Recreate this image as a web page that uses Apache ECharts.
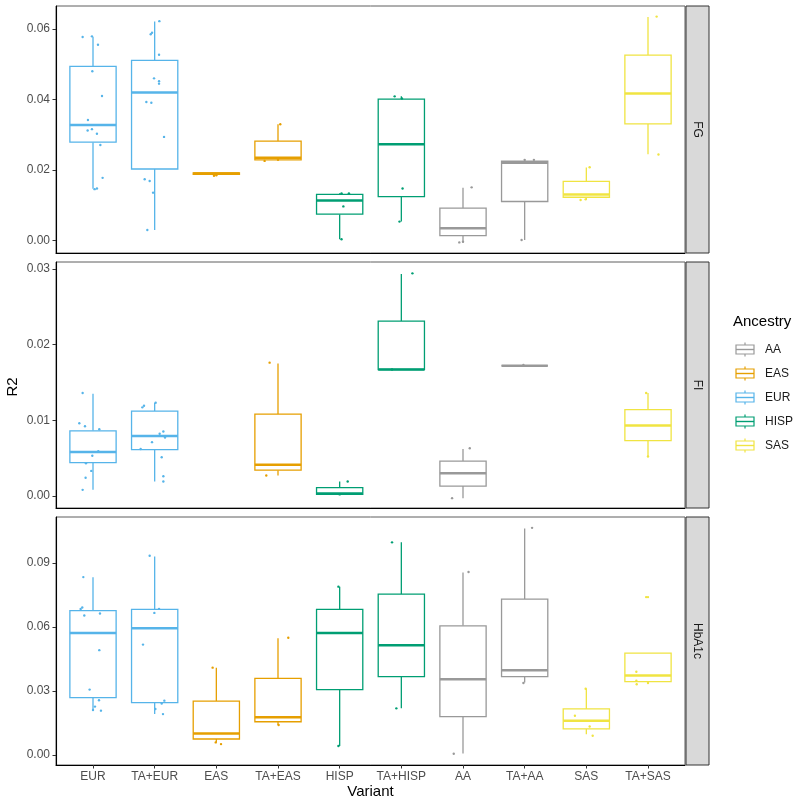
<!DOCTYPE html>
<html>
<head>
<meta charset="utf-8">
<script src="https://cdn.jsdelivr.net/npm/echarts@6/dist/echarts.min.js"></script>
<style>html,body{margin:0;padding:0;background:#fff}#c{width:800px;height:805px}</style>
</head>
<body>
<div id="c"></div>
<script>
// ---------- data ----------
const categories = ['EUR','TA+EUR','EAS','TA+EAS','HISP','TA+HISP','AA','TA+AA','SAS','TA+SAS'];
const categoryAncestry = ['EUR','EUR','EAS','EAS','HISP','HISP','AA','AA','SAS','SAS'];
const ancestries = ['AA','EAS','EUR','HISP','SAS'];
const ancestryColors = ['#999999','#E69F00','#56B4E9','#009E73','#F0E442'];
const traits = ['FG','FI','HbA1c'];

// box stats per category: [lowerWhisker, q1, median, q3, upperWhisker]
const fgBoxes = [
  [0.0147,0.0279,0.0328,0.0494,0.0577],
  [0.0030,0.0203,0.0420,0.0511,0.0621],
  [0.0188,0.0188,0.0190,0.0192,0.0192],
  [0.0229,0.0229,0.0235,0.0282,0.0330],
  [0.0004,0.0075,0.0114,0.0131,0.0134],
  [0.0054,0.0125,0.0273,0.0401,0.0409],
  [-0.0005,0.0014,0.0035,0.0092,0.0150],
  [0.0002,0.0111,0.0221,0.0225,0.0229],
  [0.0116,0.0123,0.0131,0.0168,0.0207],
  [0.0245,0.0331,0.0417,0.0526,0.0634]
];
const fiBoxes = [
  [0.0008,0.0044,0.0058,0.0086,0.0135],
  [0.0019,0.0061,0.0079,0.0112,0.0123],
  null,
  [0.0027,0.0034,0.0041,0.0108,0.0175],
  [0.0002,0.0002,0.0003,0.0011,0.0019],
  [0.0167,0.0167,0.0167,0.0231,0.0293],
  [-0.0003,0.0013,0.0030,0.0046,0.0062],
  [0.0172,0.0172,0.0172,0.0172,0.0172],
  null,
  [0.0052,0.0073,0.0093,0.0114,0.0136]
];
const hba1cBoxes = [
  [0.0207,0.0268,0.0572,0.0677,0.0833],
  [0.0191,0.0245,0.0594,0.0682,0.0931],
  [0.0058,0.0074,0.0100,0.0252,0.0408],
  [0.0140,0.0155,0.0176,0.0359,0.0547],
  [0.0041,0.0306,0.0572,0.0682,0.0789],
  [0.0218,0.0367,0.0514,0.0754,0.0997],
  [0.0006,0.0179,0.0354,0.0605,0.0856],
  [0.0339,0.0367,0.0397,0.0731,0.1062],
  [0.0096,0.0122,0.0160,0.0215,0.0311],
  [0.0333,0.0343,0.0372,0.0477,0.0477]
];

// jittered points: [categoryIndex, jitterOffset, value]
const fgPoints = [
  [0,-0.168,0.0577],[0,-0.017,0.0579],[0,0.081,0.0555],[0,-0.011,0.0480],[0,0.146,0.0410],[0,-0.082,0.0342],[0,-0.017,0.0316],[0,-0.087,0.0312],[0,0.064,0.0303],[0,0.119,0.0271],[0,0.156,0.0178],[0,0.026,0.0146],[0,0.064,0.0148],
  [1,0.076,0.0622],[1,-0.043,0.0589],[1,-0.064,0.0585],[1,0.071,0.0527],[1,-0.010,0.0460],[1,0.071,0.0452],[1,0.071,0.0445],[1,-0.135,0.0393],[1,-0.054,0.0391],[1,0.152,0.0294],[1,-0.162,0.0174],[1,-0.081,0.0169],[1,-0.026,0.0136],[1,-0.119,0.0030],
  [2,-0.038,0.0184],[2,0.0,0.0185],
  [3,0.037,0.0330],[3,-0.217,0.0226],[3,0.0,0.0229],
  [4,0.03,0.0004],[4,0.06,0.0097],[4,0.03,0.0134],[4,0.15,0.0134],
  [5,-0.108,0.0409],[5,-0.03,0.0054],[5,0.01,0.0403],[5,0.02,0.0148],
  [6,0.14,0.0151],[6,-0.06,-0.0005],[6,0.0,-0.0003],
  [7,-0.05,0.0002],[7,0.0,0.0229],[7,0.15,0.0229],
  [8,0.054,0.0208],[8,-0.093,0.0115],[8,-0.011,0.0117],
  [9,0.14,0.0635],[9,0.17,0.0244]
];
const fiPoints = [
  [0,-0.168,0.0136],[0,-0.222,0.0096],[0,-0.13,0.0092],[0,0.102,0.0088],[0,0.086,0.0059],[0,-0.011,0.0053],[0,-0.114,0.0043],[0,-0.028,0.0033],[0,-0.12,0.0024],[0,-0.168,0.0008],
  [1,0.016,0.0123],[1,-0.173,0.0119],[1,-0.2,0.0117],[1,0.081,0.0082],[1,0.141,0.0085],[1,0.168,0.0077],[1,-0.043,0.0071],[1,-0.227,0.0062],[1,0.114,0.0051],[1,0.141,0.0026],[1,0.141,0.0019],
  [3,-0.136,0.0176],[3,-0.19,0.0027],
  [4,0.13,0.0019],[4,0.0,0.0002],
  [5,0.18,0.0294],[5,-0.151,0.0167],
  [6,0.11,0.0063],[6,-0.177,-0.0003],
  [7,-0.02,0.0173],
  [9,-0.03,0.0136],[9,0.0,0.0052]
];
const hba1cPoints = [
  [0,-0.157,0.0834],[0,-0.174,0.0691],[0,-0.2,0.0684],[0,-0.141,0.0654],[0,0.113,0.0663],[0,0.102,0.0491],[0,-0.055,0.0306],[0,0.097,0.0256],[0,0.032,0.0226],[0,0.0,0.0210],[0,0.129,0.0207],
  [1,-0.081,0.0934],[1,0.071,0.0685],[1,-0.005,0.0666],[1,-0.189,0.0517],[1,0.157,0.0254],[1,0.114,0.0241],[1,0.011,0.0215],[1,0.135,0.0191],
  [2,-0.06,0.0409],[2,-0.01,0.0058],[2,0.076,0.0050],
  [3,0.167,0.0549],[3,0.01,0.0140],
  [4,-0.02,0.0789],[4,-0.02,0.0041],
  [5,-0.151,0.0997],[5,-0.081,0.0218],
  [6,0.09,0.0858],[6,-0.15,0.0005],
  [7,0.12,0.1065],[7,-0.02,0.0337],
  [8,-0.011,0.0310],[8,-0.185,0.0183],[8,0.054,0.0133],[8,0.103,0.0089],
  [9,-0.189,0.0390],[9,-0.189,0.0348],[9,0.0,0.0337],[9,-0.183,0.0331],[9,-0.03,0.0740],[9,0.0,0.0740]
];

const yTicks = [[0,0.02,0.04,0.06],[0,0.01,0.02,0.03],[0,0.03,0.06,0.09]];
const yRanges = [[-0.0035,0.0665],[-0.0016,0.0309],[-0.0048,0.1116]];

// ---------- layout ----------
const FONT = 'Liberation Sans, Arial, sans-serif';
const panels = [{top:6,height:247},{top:262,height:246},{top:517,height:248}];
const gridLeft = 56, gridRight = 800-685;
const boxesAll = [fgBoxes, fiBoxes, hba1cBoxes];
const pointsAll = [fgPoints, fiPoints, hba1cPoints];
const tickCats = categories.map((_, i) => i + 1);
const BOX_LW = 1.3, MED_LW = 2.5;

const grids = [], xAxes = [], yAxes = [], series = [], graphics = [];
panels.forEach((p, i) => {
  grids.push({left:gridLeft, right:gridRight, top:p.top, height:p.height, show:true,
    borderColor:'#5f5f5f', borderWidth:1, backgroundColor:'#fff', containLabel:false});
  const isBottom = i === panels.length - 1;
  xAxes.push({type:'value', gridIndex:i, min:0.4, max:10.6,
    axisLine:{show:true, onZero:false, lineStyle:{color:'#000', width:1.1}},
    axisTick:{show:isBottom, customValues:tickCats, length:3.5, lineStyle:{color:'#333'}},
    axisLabel:{show:isBottom, customValues:tickCats, margin:6, fontSize:12, color:'#4D4D4D', fontFamily:FONT,
      formatter:v => categories[Math.round(v) - 1] || ''},
    splitLine:{show:false}});
  yAxes.push({type:'value', gridIndex:i, min:yRanges[i][0], max:yRanges[i][1],
    axisLine:{show:true, onZero:false, lineStyle:{color:'#000', width:1.1}},
    axisTick:{show:true, customValues:yTicks[i], length:3.5, lineStyle:{color:'#333'}},
    axisLabel:{customValues:yTicks[i], margin:6, fontSize:12, color:'#4D4D4D', fontFamily:FONT,
      formatter:v => v.toFixed(2)},
    splitLine:{show:false}});

  // boxes
  const boxData = [];
  boxesAll[i].forEach((b, ci) => {
    if (!b) return;
    boxData.push([ci + 1, b[0], b[1], b[2], b[3], b[4], ancestries.indexOf(categoryAncestry[ci])]);
  });
  series.push({
    type:'custom', name:'box-' + traits[i], xAxisIndex:i, yAxisIndex:i, z:2,
    data:boxData, encode:{x:0, y:[1,2,3,4,5]},
    renderItem:(params, api) => {
      const x = api.value(0);
      const color = ancestryColors[api.value(6)];
      const half = api.size([0.75, 0])[0] / 2;
      const pLo = api.coord([x, api.value(1)]);
      const pQ1 = api.coord([x, api.value(2)]);
      const pMed = api.coord([x, api.value(3)]);
      const pQ3 = api.coord([x, api.value(4)]);
      const pHi = api.coord([x, api.value(5)]);
      const cx = pMed[0];
      const st = {stroke:color, lineWidth:BOX_LW, fill:null};
      return {type:'group', children:[
        {type:'line', shape:{x1:cx, y1:pQ3[1], x2:cx, y2:pHi[1]}, style:st},
        {type:'line', shape:{x1:cx, y1:pQ1[1], x2:cx, y2:pLo[1]}, style:st},
        {type:'rect', shape:{x:cx-half, y:pQ3[1], width:2*half, height:pQ1[1]-pQ3[1]}, style:{stroke:color, lineWidth:BOX_LW, fill:'#fff'}},
        {type:'line', shape:{x1:cx-half, y1:pMed[1], x2:cx+half, y2:pMed[1]}, style:{stroke:color, lineWidth:MED_LW}}
      ]};
    }
  });

  // points per ancestry
  ancestries.forEach((a, ai) => {
    const data = pointsAll[i]
      .filter(pt => categoryAncestry[pt[0]] === a)
      .map(pt => [pt[0] + 1 + pt[1], pt[2]]);
    series.push({type:'scatter', name:a, xAxisIndex:i, yAxisIndex:i, z:3,
      symbol:'circle', symbolSize:2.4, itemStyle:{color:ancestryColors[ai], opacity:1},
      data:data, silent:true});
  });

  // strip
  graphics.push({type:'rect', shape:{x:686, y:p.top, width:23, height:p.height},
    style:{fill:'#D9D9D9', stroke:'#333', lineWidth:1}});
  graphics.push({type:'text', x:697.5, y:p.top + p.height / 2, rotation:-Math.PI / 2,
    style:{text:traits[i], fill:'#1A1A1A', fontSize:12, fontFamily:FONT, align:'center', verticalAlign:'middle'}});
});

graphics.push({type:'text', x:12.5, y:387, rotation:Math.PI / 2,
  style:{text:'R2', fill:'#000', fontSize:15, fontFamily:FONT, align:'center', verticalAlign:'middle'}});
graphics.push({type:'text', x:370.5, y:792,
  style:{text:'Variant', fill:'#000', fontSize:15, fontFamily:FONT, align:'center', verticalAlign:'middle'}});
graphics.push({type:'text', x:733, y:322,
  style:{text:'Ancestry', fill:'#000', fontSize:15, fontFamily:FONT, align:'left', verticalAlign:'middle'}});

// legend keys (boxplot glyphs)
ancestries.forEach((a, k) => {
  const cy = 349.5 + 24 * k, color = ancestryColors[k];
  const st = {stroke:color, lineWidth:1.2, fill:null};
  graphics.push({type:'group', children:[
    {type:'line', shape:{x1:745, y1:cy-7, x2:745, y2:cy-4.5}, style:st},
    {type:'line', shape:{x1:745, y1:cy+4.5, x2:745, y2:cy+7}, style:st},
    {type:'rect', shape:{x:736, y:cy-4.5, width:18, height:9}, style:{stroke:color, lineWidth:1.2, fill:'#fff'}},
    {type:'line', shape:{x1:736, y1:cy, x2:754, y2:cy}, style:{stroke:color, lineWidth:1.4}},
    {type:'text', x:765, y:cy, style:{text:a, fill:'#1A1A1A', fontSize:12, fontFamily:FONT, align:'left', verticalAlign:'middle'}}
  ]});
});

const option = {
  animation:false,
  backgroundColor:'#fff',
  grid:grids, xAxis:xAxes, yAxis:yAxes, series:series,
  graphic:graphics
};
const chart = echarts.init(document.getElementById('c'), null, {renderer:'canvas'});
chart.setOption(option);
</script>
</body>
</html>
